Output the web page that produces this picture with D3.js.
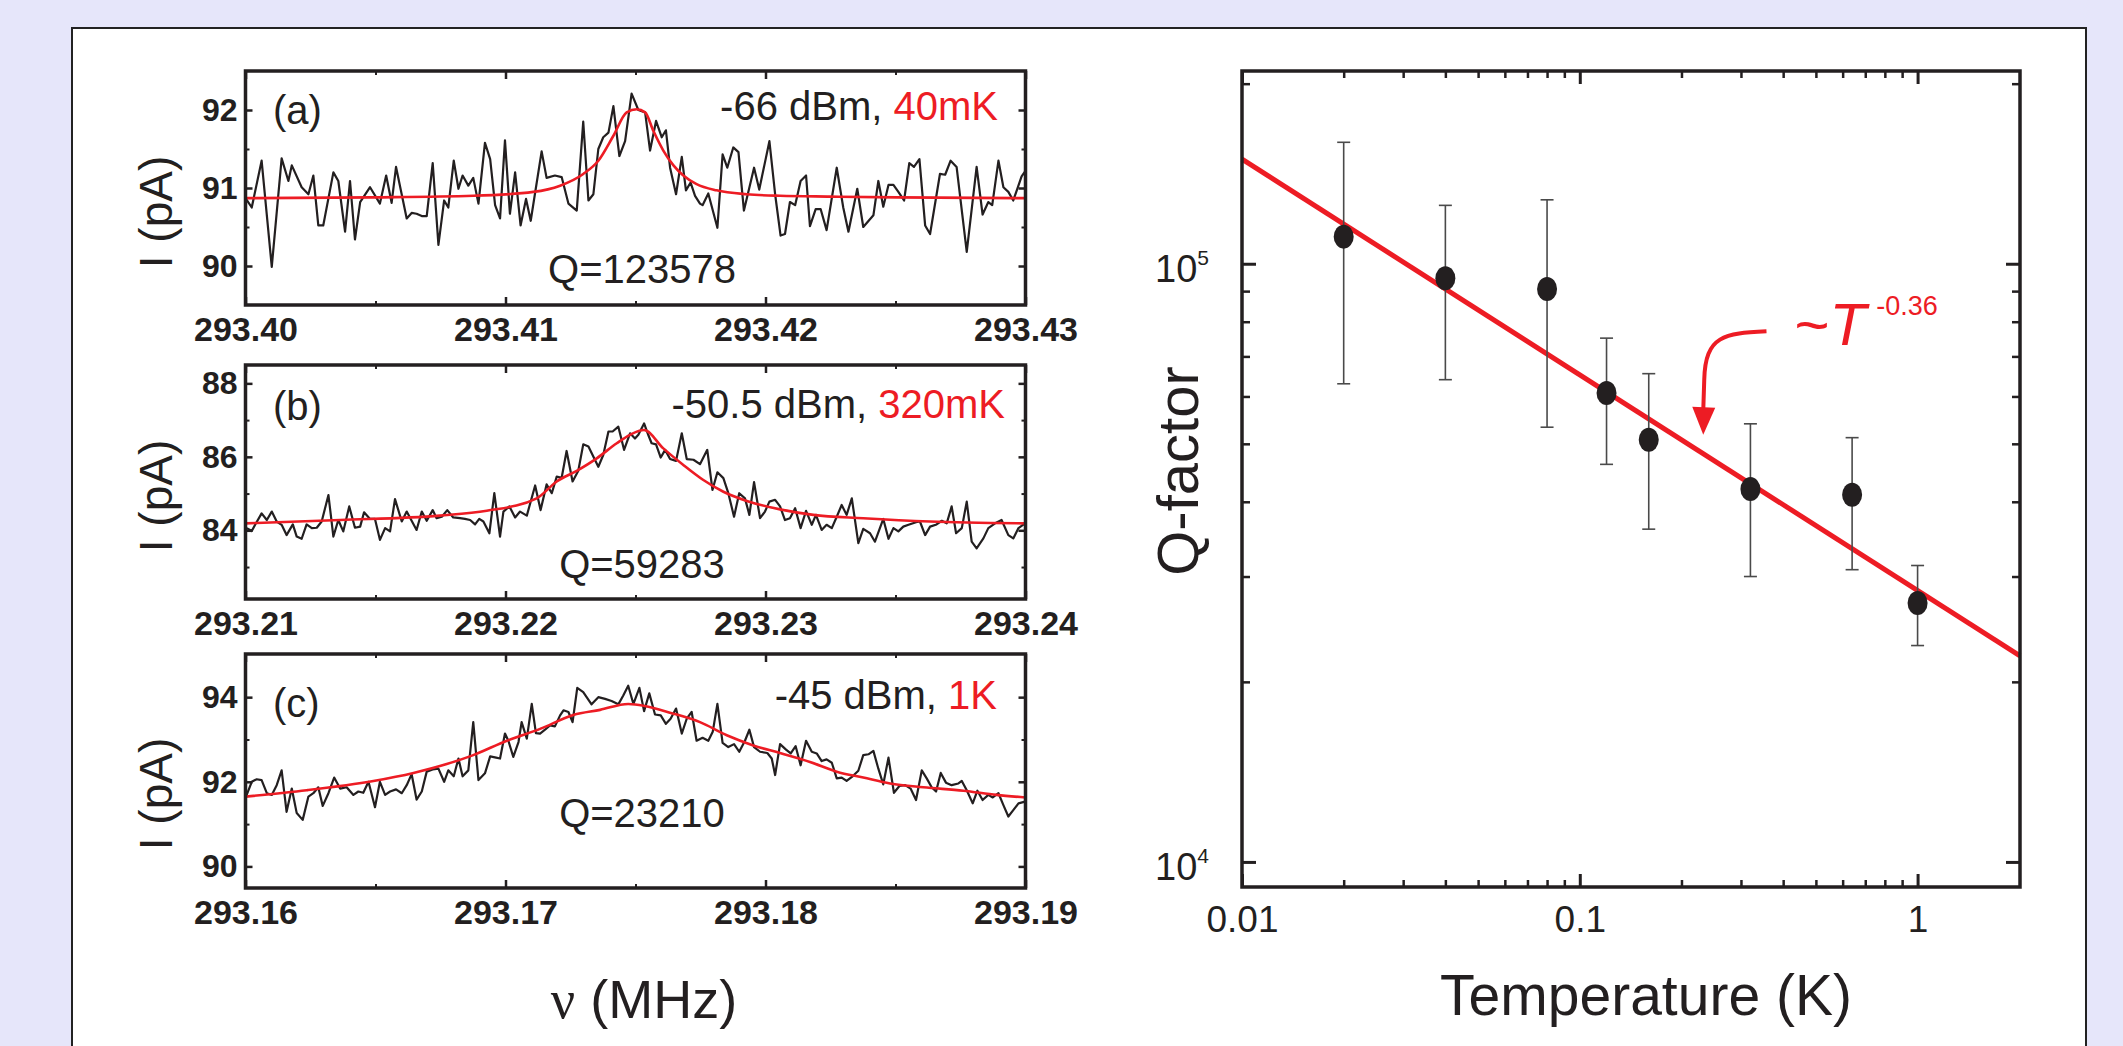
<!DOCTYPE html>
<html>
<head>
<meta charset="utf-8">
<script src="https://cdn.jsdelivr.net/npm/d3@7"></script>
<style>
  html, body { margin: 0; padding: 0; background: #e6e6fa; }
  svg { display: block; }
</style>
</head>
<body>
<div id="chart"></div>
<script>
// ---- resonance traces, [frequency (MHz), current (pA)] ----
const traceA = [
  [293.40002, 90.86], [293.40024, 90.75], [293.40062, 91.35], [293.40101, 89.99], [293.40139, 91.38],
  [293.40165, 91.09], [293.40178, 91.29], [293.40216, 91.01], [293.40242, 90.92], [293.40261, 91.16],
  [293.40280, 90.52], [293.40299, 90.52], [293.40338, 91.20], [293.40357, 91.09], [293.40383, 90.44],
  [293.40402, 91.09], [293.40421, 90.34], [293.40441, 90.82], [293.40479, 91.01], [293.40517, 90.80],
  [293.40541, 91.16], [293.40562, 90.81], [293.40579, 91.27], [293.40620, 90.61], [293.40639, 90.68],
  [293.40658, 90.67], [293.40678, 90.64], [293.40697, 90.64], [293.40720, 91.32], [293.40742, 90.27],
  [293.40764, 90.84], [293.40780, 90.75], [293.40801, 91.35], [293.40819, 90.99], [293.40835, 91.16],
  [293.40857, 91.03], [293.40876, 91.13], [293.40896, 90.80], [293.40921, 91.58], [293.40941, 91.37],
  [293.40960, 90.78], [293.40979, 90.61], [293.40998, 91.61], [293.41017, 90.67], [293.41037, 91.20],
  [293.41058, 90.52], [293.41079, 90.86], [293.41097, 90.58], [293.41139, 91.47], [293.41158, 91.13],
  [293.41190, 91.16], [293.41216, 91.14], [293.41242, 90.80], [293.41274, 90.71], [293.41299, 91.85],
  [293.41319, 90.84], [293.41338, 90.92], [293.41357, 91.50], [293.41376, 91.65], [293.41396, 91.71],
  [293.41415, 92.05], [293.41438, 91.41], [293.41460, 91.60], [293.41485, 92.21], [293.41511, 92.00],
  [293.41537, 91.97], [293.41556, 91.48], [293.41579, 91.86], [293.41601, 91.65], [293.41617, 91.74],
  [293.41633, 91.26], [293.41656, 90.92], [293.41678, 91.40], [293.41694, 90.97], [293.41712, 91.07],
  [293.41729, 90.90], [293.41748, 90.80], [293.41758, 90.78], [293.41780, 90.93], [293.41815, 90.49],
  [293.41835, 91.43], [293.41853, 91.26], [293.41876, 91.52], [293.41896, 91.46], [293.41917, 90.71],
  [293.41956, 91.26], [293.41976, 90.98], [293.42015, 91.60], [293.42037, 90.92], [293.42058, 90.39],
  [293.42075, 90.41], [293.42094, 90.82], [293.42114, 90.78], [293.42135, 91.09], [293.42156, 91.16],
  [293.42171, 90.51], [293.42193, 90.73], [293.42212, 90.73], [293.42235, 90.46], [293.42274, 91.26],
  [293.42299, 90.75], [293.42319, 90.44], [293.42353, 90.99], [293.42376, 90.50], [293.42415, 90.65],
  [293.42434, 91.09], [293.42453, 90.76], [293.42473, 91.04], [293.42492, 91.04], [293.42511, 90.95],
  [293.42533, 90.84], [293.42553, 91.32], [293.42571, 91.27], [293.42592, 91.37], [293.42614, 90.52],
  [293.42633, 90.41], [293.42671, 91.18], [293.42691, 91.17], [293.42712, 91.35], [293.42735, 91.27],
  [293.42774, 90.18], [293.42812, 91.27], [293.42835, 90.66], [293.42857, 90.82], [293.42872, 90.78],
  [293.42896, 91.35], [293.42915, 91.01], [293.42934, 90.95], [293.42953, 90.84], [293.42985, 91.15],
  [293.43000, 91.22]
];
const fitA = [
  [293.40000, 90.87], [293.40492, 90.88], [293.40876, 90.90], [293.41107, 90.95], [293.41210, 91.03],
  [293.41299, 91.18], [293.41357, 91.35], [293.41415, 91.67], [293.41466, 91.97], [293.41505, 92.01],
  [293.41537, 91.97], [293.41569, 91.73], [293.41607, 91.48], [293.41646, 91.29], [293.41684, 91.16],
  [293.41735, 91.05], [293.41812, 90.97], [293.41928, 90.92], [293.42056, 90.90], [293.42248, 90.89],
  [293.42505, 90.88], [293.43000, 90.87]
];

const traceB = [
  [293.21005, 84.06], [293.21024, 83.98], [293.21037, 84.15], [293.21062, 84.46], [293.21082, 84.28],
  [293.21101, 84.51], [293.21120, 84.24], [293.21139, 84.15], [293.21158, 83.87], [293.21182, 84.16],
  [293.21197, 83.83], [293.21216, 83.77], [293.21235, 84.16], [293.21255, 84.06], [293.21274, 84.07],
  [293.21293, 84.24], [293.21319, 84.96], [293.21338, 83.83], [293.21357, 84.28], [293.21376, 83.97],
  [293.21399, 84.65], [293.21421, 84.07], [293.21441, 84.10], [293.21456, 84.49], [293.21479, 84.31],
  [293.21498, 84.31], [293.21517, 83.74], [293.21537, 84.06], [293.21556, 83.97], [293.21575, 84.85],
  [293.21601, 84.24], [293.21620, 84.51], [293.21639, 84.26], [293.21658, 84.01], [293.21678, 84.51],
  [293.21697, 84.26], [293.21720, 84.55], [293.21735, 84.33], [293.21755, 84.37], [293.21776, 84.55],
  [293.21799, 84.35], [293.21825, 84.33], [293.21844, 84.31], [293.21864, 84.28], [293.21883, 84.16],
  [293.21899, 84.31], [293.21915, 84.24], [293.21938, 83.92], [293.21957, 85.01], [293.21979, 83.83],
  [293.21992, 84.51], [293.22015, 84.65], [293.22037, 84.35], [293.22056, 84.51], [293.22082, 84.40],
  [293.22114, 85.22], [293.22135, 84.55], [293.22158, 85.25], [293.22178, 85.01], [293.22197, 85.46],
  [293.22216, 85.43], [293.22235, 86.16], [293.22258, 85.33], [293.22280, 85.62], [293.22299, 86.34],
  [293.22319, 86.28], [293.22357, 85.73], [293.22376, 86.05], [293.22396, 86.69], [293.22412, 86.69],
  [293.22434, 86.82], [293.22456, 86.19], [293.22479, 86.64], [293.22498, 86.50], [293.22511, 86.60],
  [293.22533, 86.91], [293.22550, 86.58], [293.22562, 86.37], [293.22579, 86.34], [293.22597, 85.98],
  [293.22614, 86.19], [293.22633, 85.94], [293.22656, 85.89], [293.22678, 86.64], [293.22697, 85.94],
  [293.22723, 85.92], [293.22748, 85.80], [293.22776, 86.19], [293.22796, 85.10], [293.22815, 85.58],
  [293.22838, 85.42], [293.22857, 85.01], [293.22879, 84.37], [293.22899, 85.01], [293.22921, 84.87],
  [293.22938, 84.42], [293.22956, 85.31], [293.22979, 84.33], [293.22998, 84.51], [293.23015, 84.78],
  [293.23037, 84.83], [293.23056, 84.65], [293.23075, 84.28], [293.23094, 84.33], [293.23114, 84.60],
  [293.23135, 84.06], [293.23156, 84.53], [293.23178, 84.15], [293.23194, 84.42], [293.23216, 84.01],
  [293.23235, 84.15], [293.23255, 84.06], [293.23274, 84.37], [293.23293, 84.69], [293.23312, 84.42],
  [293.23332, 84.87], [293.23357, 83.65], [293.23376, 84.04], [293.23402, 83.92], [293.23421, 83.69],
  [293.23453, 84.31], [293.23473, 83.77], [293.23492, 84.06], [293.23511, 83.97], [293.23530, 84.10],
  [293.23550, 84.15], [293.23579, 84.22], [293.23594, 84.24], [293.23614, 83.87], [293.23633, 84.10],
  [293.23658, 84.16], [293.23678, 84.26], [293.23697, 84.19], [293.23716, 84.65], [293.23733, 83.92],
  [293.23755, 84.06], [293.23774, 84.78], [293.23793, 83.69], [293.23812, 83.51], [293.23838, 83.78],
  [293.23857, 84.06], [293.23883, 84.19], [293.23908, 84.28], [293.23934, 83.87], [293.23953, 83.78],
  [293.23973, 84.06], [293.23998, 84.19]
];
const fitB = [
  [293.21000, 84.19], [293.21364, 84.28], [293.21748, 84.40], [293.21928, 84.53], [293.22120, 84.87],
  [293.22197, 85.33], [293.22274, 85.62], [293.22351, 85.96], [293.22428, 86.37], [293.22479, 86.60],
  [293.22533, 86.73], [293.22607, 86.23], [293.22684, 85.78], [293.22761, 85.37], [293.22838, 85.05],
  [293.22928, 84.80], [293.23056, 84.57], [293.23184, 84.42], [293.23376, 84.33], [293.23633, 84.24],
  [293.24000, 84.19]
];

const traceC = [
  [293.16002, 91.65], [293.16024, 92.00], [293.16043, 92.06], [293.16062, 92.04], [293.16082, 91.73],
  [293.16101, 91.69], [293.16120, 91.92], [293.16139, 92.27], [293.16158, 91.29], [293.16178, 91.84],
  [293.16197, 91.26], [293.16220, 91.10], [293.16242, 91.65], [293.16261, 91.73], [293.16280, 91.87],
  [293.16297, 91.43], [293.16319, 91.73], [293.16341, 92.10], [293.16364, 91.84], [293.16389, 91.87],
  [293.16415, 91.69], [293.16434, 91.77], [293.16453, 91.74], [293.16473, 92.00], [293.16498, 91.40],
  [293.16517, 92.00], [293.16537, 91.69], [293.16556, 91.77], [293.16579, 91.82], [293.16601, 91.73],
  [293.16620, 91.92], [293.16639, 92.18], [293.16658, 91.58], [293.16678, 91.77], [293.16697, 92.24],
  [293.16720, 92.29], [293.16742, 92.31], [293.16764, 92.00], [293.16780, 92.27], [293.16801, 92.13],
  [293.16819, 92.55], [293.16835, 92.13], [293.16857, 92.27], [293.16876, 93.41], [293.16896, 92.04],
  [293.16921, 92.20], [293.16941, 92.60], [293.16964, 92.57], [293.16979, 92.55], [293.16998, 93.14],
  [293.17011, 92.97], [293.17030, 92.59], [293.17050, 92.94], [293.17062, 93.41], [293.17082, 93.02],
  [293.17101, 93.84], [293.17117, 93.15], [293.17133, 93.14], [293.17152, 93.23], [293.17171, 93.33],
  [293.17190, 93.31], [293.17210, 93.57], [293.17223, 93.69], [293.17242, 93.65], [293.17258, 93.41],
  [293.17276, 94.22], [293.17299, 94.12], [293.17331, 93.83], [293.17357, 94.00], [293.17383, 93.96],
  [293.17408, 93.91], [293.17434, 93.83], [293.17453, 94.04], [293.17472, 94.27], [293.17492, 93.84],
  [293.17515, 94.22], [293.17533, 93.67], [293.17553, 94.09], [293.17575, 93.59], [293.17597, 93.57],
  [293.17617, 93.37], [293.17635, 93.49], [293.17656, 93.73], [293.17678, 93.14], [293.17697, 93.49],
  [293.17716, 93.65], [293.17735, 92.97], [293.17758, 93.04], [293.17780, 92.97], [293.17797, 93.18],
  [293.17815, 93.84], [293.17835, 92.92], [293.17857, 92.82], [293.17879, 92.89], [293.17899, 92.71],
  [293.17921, 92.97], [293.17938, 93.23], [293.17956, 92.82], [293.17979, 92.71], [293.18007, 92.68],
  [293.18024, 92.55], [293.18037, 92.16], [293.18056, 92.89], [293.18079, 92.76], [293.18097, 92.67],
  [293.18116, 92.84], [293.18135, 92.39], [293.18156, 92.97], [293.18178, 92.71], [293.18197, 92.67],
  [293.18216, 92.49], [293.18235, 92.53], [293.18255, 92.45], [293.18274, 92.08], [293.18293, 92.10],
  [293.18312, 92.02], [293.18335, 92.13], [293.18357, 92.26], [293.18376, 92.63], [293.18396, 92.65],
  [293.18415, 92.73], [293.18434, 92.31], [293.18453, 91.94], [293.18473, 92.57], [293.18494, 91.74],
  [293.18515, 91.90], [293.18537, 91.92], [293.18558, 91.84], [293.18579, 91.57], [293.18601, 92.27],
  [293.18620, 92.08], [293.18639, 91.87], [293.18656, 91.77], [293.18674, 92.21], [293.18694, 91.98],
  [293.18716, 91.92], [293.18742, 91.96], [293.18755, 92.02], [293.18774, 91.80], [293.18797, 91.49],
  [293.18815, 91.79], [293.18835, 91.57], [293.18857, 91.69], [293.18874, 91.63], [293.18896, 91.73],
  [293.18915, 91.45], [293.18934, 91.18], [293.18953, 91.33], [293.18973, 91.49], [293.18998, 91.53]
];
const fitC = [
  [293.16000, 91.65], [293.16235, 91.80], [293.16492, 92.02], [293.16646, 92.21], [293.16774, 92.42],
  [293.16876, 92.63], [293.17005, 92.97], [293.17133, 93.25], [293.17261, 93.58], [293.17364, 93.70],
  [293.17472, 93.84], [293.17646, 93.61], [293.17748, 93.41], [293.17851, 93.10], [293.17953, 92.86],
  [293.18056, 92.68], [293.18171, 92.47], [293.18274, 92.24], [293.18376, 92.10], [293.18479, 91.96],
  [293.18607, 91.87], [293.18761, 91.79], [293.18889, 91.69], [293.19000, 91.63]
];

// tick labels of the three spectra
const freqTicksA = [293.40, 293.41, 293.42, 293.43];
const freqTicksB = [293.21, 293.22, 293.23, 293.24];
const freqTicksC = [293.16, 293.17, 293.18, 293.19];
const currentTicksA = [90, 91, 92];
const currentTicksB = [84, 86, 88];
const currentTicksC = [90, 92, 94];
const currentMinorA = [90.5, 91.5];
const currentMinorB = [83, 85, 87];
const currentMinorC = [91, 93];

// ---- Q-factor vs temperature ----
const tempK = [0.02, 0.04, 0.08, 0.12, 0.16, 0.32, 0.64, 1.0];
const qFactor = [111000, 94600, 90700, 60800, 50800, 42000, 41100, 27100];
const qErrHigh = [159600, 125200, 127900, 75100, 65500, 54000, 51200, 31300];
const qErrLow = [63000, 64000, 53300, 46200, 36000, 30000, 30800, 23000];
const fitT = [0.01, 2.01];
const fitQ = [149600, 22100];
const tempTicks = [0.01, 0.1, 1];
const qTicks = [1e4, 1e5];

const W = 2123, H = 1046;
const FONT = "'Liberation Sans', Arial, Helvetica, sans-serif";
const INK = '#231f20';
const RED = '#ed1c24';

const svg = d3.select('#chart').append('svg')
    .attr('width', W)
    .attr('height', H)
    .style('font-family', FONT);

svg.append('rect').attr('width', W).attr('height', H).attr('fill', '#e6e6fa');
svg.append('rect')
    .attr('x', 72).attr('y', 28)
    .attr('width', 2014).attr('height', 1040)
    .attr('fill', '#fff').attr('stroke', '#222').attr('stroke-width', 2);

function styleAxis(sel, width) {
    sel.select('.domain').remove();
    sel.selectAll('.tick line').attr('stroke', INK).attr('stroke-width', width);
    sel.attr('font-family', FONT);
}

// ---- left: three spectra ----
const L = 245.5, R = 1025.5, PH = 234;

const panels = [
    {trace: traceA, fit: fitA, xTicks: freqTicksA, yTicks: currentTicksA, yMinor: currentMinorA,
     yDomain: [89.5, 92.5], top: 71, tag: '(a)', power: '-66 dBm, ', temp: '40mK', q: 'Q=123578',
     tagDy: 53, powerDy: 49, powerX: 998, qDy: 212, labelDy: 141},
    {trace: traceB, fit: fitB, xTicks: freqTicksB, yTicks: currentTicksB, yMinor: currentMinorB,
     yDomain: [82.13, 88.5], top: 365, tag: '(b)', power: '-50.5 dBm, ', temp: '320mK', q: 'Q=59283',
     tagDy: 55, powerDy: 53, powerX: 1005, qDy: 213, labelDy: 131},
    {trace: traceC, fit: fitC, xTicks: freqTicksC, yTicks: currentTicksC, yMinor: currentMinorC,
     yDomain: [89.49, 95.02], top: 654, tag: '(c)', power: '-45 dBm, ', temp: '1K', q: 'Q=23210',
     tagDy: 63, powerDy: 55, powerX: 997, qDy: 173, labelDy: 140}
];

panels.forEach(p => {
    const x = d3.scaleLinear().domain(d3.extent(p.xTicks)).range([L, R]);
    const y = d3.scaleLinear().domain(p.yDomain).range([p.top + PH, p.top]);
    const xMinor = d3.pairs(p.xTicks, (a, b) => (a + b) / 2);
    const g = svg.append('g');

    // bottom axis with labels
    g.append('g').attr('transform', `translate(0,${p.top + PH})`)
        .call(d3.axisBottom(x).tickValues(p.xTicks).tickSize(-8).tickPadding(12).tickFormat(d3.format('.2f')))
        .call(s => styleAxis(s, 2.5))
        .call(s => s.selectAll('text').attr('font-size', 34).attr('font-weight', 'bold').attr('fill', INK));
    g.append('g').attr('transform', `translate(0,${p.top + PH})`)
        .call(d3.axisBottom(x).tickValues(xMinor).tickSize(-4).tickFormat(''))
        .call(s => styleAxis(s, 2));
    g.append('g').attr('transform', `translate(0,${p.top})`)
        .call(d3.axisTop(x).tickValues(p.xTicks).tickSize(-8).tickFormat(''))
        .call(s => styleAxis(s, 2.5));
    g.append('g').attr('transform', `translate(0,${p.top})`)
        .call(d3.axisTop(x).tickValues(xMinor).tickSize(-4).tickFormat(''))
        .call(s => styleAxis(s, 2));

    // left axis with labels
    g.append('g').attr('transform', `translate(${L},0)`)
        .call(d3.axisLeft(y).tickValues(p.yTicks).tickSize(-7).tickPadding(8).tickFormat(d3.format('d')))
        .call(s => styleAxis(s, 2.5))
        .call(s => s.selectAll('text').attr('font-size', 32).attr('font-weight', 'bold').attr('fill', INK));
    g.append('g').attr('transform', `translate(${L},0)`)
        .call(d3.axisLeft(y).tickValues(p.yMinor).tickSize(-4).tickFormat(''))
        .call(s => styleAxis(s, 2));
    g.append('g').attr('transform', `translate(${R},0)`)
        .call(d3.axisRight(y).tickValues(p.yTicks).tickSize(-7).tickFormat(''))
        .call(s => styleAxis(s, 2.5));
    g.append('g').attr('transform', `translate(${R},0)`)
        .call(d3.axisRight(y).tickValues(p.yMinor).tickSize(-4).tickFormat(''))
        .call(s => styleAxis(s, 2));

    const line = d3.line().x(d => x(d[0])).y(d => y(d[1]));
    g.append('path').datum(p.trace)
        .attr('d', line)
        .attr('fill', 'none').attr('stroke', INK).attr('stroke-width', 2.2).attr('stroke-linejoin', 'round');
    g.append('path').datum(p.fit)
        .attr('d', line.curve(d3.curveMonotoneX))
        .attr('fill', 'none').attr('stroke', RED).attr('stroke-width', 2.6);

    g.append('rect')
        .attr('x', L).attr('y', p.top).attr('width', R - L).attr('height', PH)
        .attr('fill', 'none').attr('stroke', INK).attr('stroke-width', 3.5);

    g.append('text').attr('x', 273).attr('y', p.top + p.tagDy)
        .attr('font-size', 40).attr('fill', INK).text(p.tag);
    const pw = g.append('text').attr('x', p.powerX).attr('y', p.top + p.powerDy)
        .attr('font-size', 40).attr('text-anchor', 'end').attr('fill', INK);
    pw.append('tspan').text(p.power);
    pw.append('tspan').attr('fill', RED).text(p.temp);
    g.append('text').attr('x', 642).attr('y', p.top + p.qDy)
        .attr('font-size', 40).attr('text-anchor', 'middle').attr('fill', INK).text(p.q);

    g.append('text')
        .attr('transform', `translate(172,${p.top + p.labelDy}) rotate(-90)`)
        .attr('font-size', 46).attr('text-anchor', 'middle').attr('fill', INK)
        .text('I (pA)');
});

const nu = svg.append('text').attr('x', 644).attr('y', 1018)
    .attr('font-size', 54).attr('text-anchor', 'middle').attr('fill', INK);
nu.append('tspan').attr('font-family', "'Liberation Serif', 'Times New Roman', serif").text('ν');
nu.append('tspan').text(' (MHz)');

// ---- right: Q-factor vs temperature ----
const QL = 1242, QR = 2020, QT = 71, QB = 887;
const tx = d3.scaleLog().domain([0.01, 2.01]).range([QL, QR]);
const qy = d3.scaleLog().domain([9080, 210000]).range([QB, QT]);
const tMinor = tx.ticks().filter(v => !tempTicks.some(t => Math.abs(t - v) < 1e-9) && v < 2);
const qMinor = qy.ticks().filter(v => !qTicks.includes(v));

const rg = svg.append('g');
rg.append('g').attr('transform', `translate(0,${QB})`)
    .call(d3.axisBottom(tx).tickValues(tempTicks).tickSize(-13).tickPadding(19).tickFormat(d => String(d)))
    .call(s => styleAxis(s, 3))
    .call(s => s.selectAll('text').attr('font-size', 37).attr('fill', INK));
rg.append('g').attr('transform', `translate(0,${QB})`)
    .call(d3.axisBottom(tx).tickValues(tMinor).tickSize(-7).tickFormat(''))
    .call(s => styleAxis(s, 2.5));
rg.append('g').attr('transform', `translate(0,${QT})`)
    .call(d3.axisTop(tx).tickValues(tempTicks).tickSize(-13).tickFormat(''))
    .call(s => styleAxis(s, 3));
rg.append('g').attr('transform', `translate(0,${QT})`)
    .call(d3.axisTop(tx).tickValues(tMinor).tickSize(-7).tickFormat(''))
    .call(s => styleAxis(s, 2.5));
rg.append('g').attr('transform', `translate(${QL},0)`)
    .call(d3.axisLeft(qy).tickValues(qTicks).tickSize(-14).tickFormat(''))
    .call(s => styleAxis(s, 3));
rg.append('g').attr('transform', `translate(${QL},0)`)
    .call(d3.axisLeft(qy).tickValues(qMinor).tickSize(-8).tickFormat(''))
    .call(s => styleAxis(s, 2.5));
rg.append('g').attr('transform', `translate(${QR},0)`)
    .call(d3.axisRight(qy).tickValues(qTicks).tickSize(-14).tickFormat(''))
    .call(s => styleAxis(s, 3));
rg.append('g').attr('transform', `translate(${QR},0)`)
    .call(d3.axisRight(qy).tickValues(qMinor).tickSize(-8).tickFormat(''))
    .call(s => styleAxis(s, 2.5));

// decade labels 10^n
qTicks.forEach(v => {
    const t = rg.append('text').attr('x', 1155).attr('y', qy(v) + 18)
        .attr('font-size', 38).attr('fill', INK);
    t.append('tspan').text('10');
    t.append('tspan').attr('font-size', 21).attr('dy', -17).text(String(Math.round(Math.log10(v))));
});

// fit line
rg.append('path').datum(d3.zip(fitT, fitQ))
    .attr('d', d3.line().x(d => tx(d[0])).y(d => qy(d[1])))
    .attr('stroke', RED).attr('stroke-width', 5).attr('fill', 'none');

// error bars
const pts = tempK.map((t, i) => ({t, q: qFactor[i], hi: qErrHigh[i], lo: qErrLow[i]}));
const eb = rg.append('g').attr('stroke', '#4a4a4a').attr('stroke-width', 1.6);
eb.selectAll('line.bar').data(pts).join('line')
    .attr('x1', d => tx(d.t)).attr('x2', d => tx(d.t))
    .attr('y1', d => qy(d.hi)).attr('y2', d => qy(d.lo));
eb.selectAll('line.capHi').data(pts).join('line').attr('class', 'capHi')
    .attr('x1', d => tx(d.t) - 6.5).attr('x2', d => tx(d.t) + 6.5)
    .attr('y1', d => qy(d.hi)).attr('y2', d => qy(d.hi));
eb.selectAll('line.capLo').data(pts).join('line').attr('class', 'capLo')
    .attr('x1', d => tx(d.t) - 6.5).attr('x2', d => tx(d.t) + 6.5)
    .attr('y1', d => qy(d.lo)).attr('y2', d => qy(d.lo));

rg.selectAll('ellipse.pt').data(pts).join('ellipse')
    .attr('cx', d => tx(d.t)).attr('cy', d => qy(d.q))
    .attr('rx', 10).attr('ry', 12).attr('fill', INK);

rg.append('rect')
    .attr('x', QL).attr('y', QT).attr('width', QR - QL).attr('height', QB - QT)
    .attr('fill', 'none').attr('stroke', INK).attr('stroke-width', 3.5);

// power-law annotation
const arrowFrom = [0.357, 77100];
const arrowTo = [0.232, 51800];
const sx = tx(arrowFrom[0]), sy = qy(arrowFrom[1]);
const ex = tx(arrowTo[0]), ey = qy(arrowTo[1]);
rg.append('path')
    .attr('d', `M${sx},${sy} C${sx - 42},${sy + 2} ${ex + 2},${sy + 4} ${ex + 1},${ey - 55} L${ex},${ey - 24}`)
    .attr('fill', 'none').attr('stroke', RED).attr('stroke-width', 4);
rg.append('path')
    .attr('d', `M${ex},${ey} L${ex - 11},${ey - 28} L${ex + 12},${ey - 27} Z`)
    .attr('fill', RED);

const labelAt = [0.432, 73200];
const lt = rg.append('text').attr('x', tx(labelAt[0])).attr('y', qy(labelAt[1]))
    .attr('font-size', 60).attr('fill', RED);
lt.append('tspan').text('~');
lt.append('tspan').attr('font-style', 'italic').text('T');
lt.append('tspan').attr('font-size', 27).attr('dx', 10).attr('dy', -30).text('-0.36');

// axis titles
rg.append('text')
    .attr('transform', `translate(1198,471) rotate(-90)`)
    .attr('font-size', 58).attr('text-anchor', 'middle').attr('fill', INK)
    .text('Q-factor');
rg.append('text').attr('x', 1646).attr('y', 1015)
    .attr('font-size', 57).attr('text-anchor', 'middle').attr('fill', INK)
    .text('Temperature (K)');
</script>
</body>
</html>
